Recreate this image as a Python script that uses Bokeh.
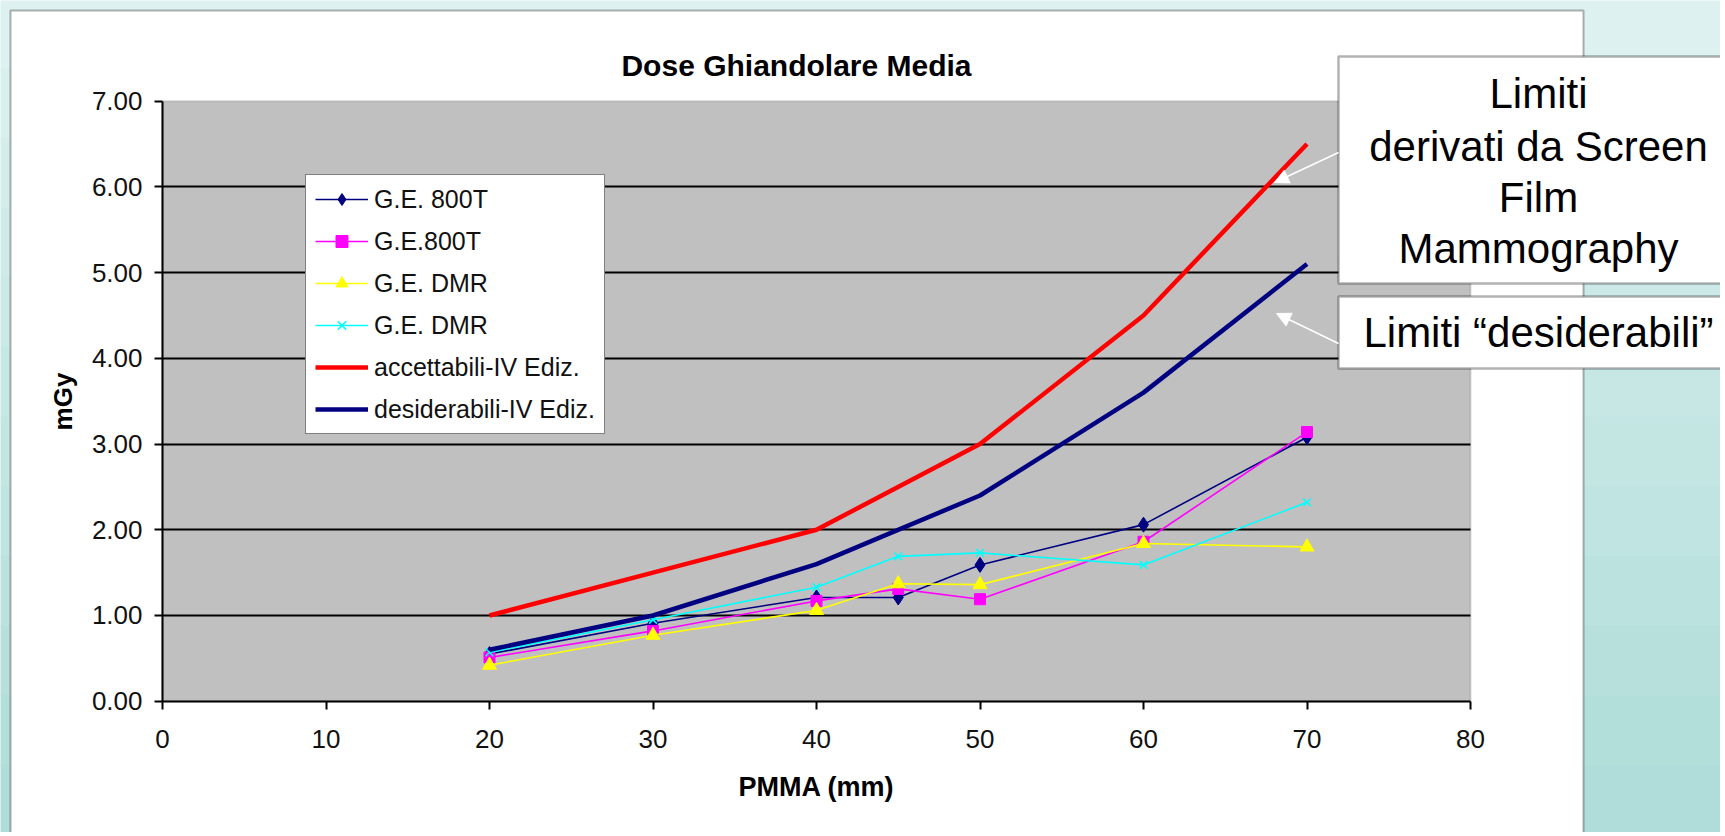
from bokeh.plotting import figure
from bokeh.models import (Range1d, FixedTicker, NumeralTickFormatter, Legend, LegendItem,
                          BoxAnnotation, Label, Arrow, NormalHead)
from bokeh.embed import file_html
from bokeh.resources import INLINE

# ---------------- data ----------------
pmma_mm = [20, 30, 40, 45, 50, 60, 70]
ge_800t_a = [0.55, 0.91, 1.21, 1.21, 1.59, 2.06, 3.08]
ge_800t_b = [0.51, 0.82, 1.17, 1.31, 1.19, 1.86, 3.14]
ge_dmr_a = [0.42, 0.77, 1.06, 1.37, 1.36, 1.84, 1.80]
ge_dmr_b = [0.57, 0.95, 1.33, 1.69, 1.73, 1.59, 2.32]
limit_mm = [20, 30, 40, 50, 60, 70]
accettabili = [1.0, 1.5, 2.0, 3.0, 4.5, 6.5]
desiderabili = [0.6, 1.0, 1.6, 2.4, 3.6, 5.1]

x_ticks = [0, 10, 20, 30, 40, 50, 60, 70, 80]
y_ticks = [0, 1, 2, 3, 4, 5, 6, 7]
grid_ticks = [1, 2, 3, 4, 5, 6]

title_text = "Dose Ghiandolare Media"
x_label = "PMMA (mm)"
y_label = "mGy"
box1_lines = ["Limiti", "derivati da Screen", "Film", "Mammography"]
box2_text = "Limiti \u201cdesiderabili\u201d"

# ---------------- geometry (canvas pixels) ----------------
W, H = 1720, 832
XMIN, XMAX, YMIN, YMAX = 0, 80, 0, 7
PXL, PXR, PYB, PYT = 162.0, 1470.0, 700.7, 100.7   # pixel position of the plot area


def dx(px):
    return XMIN + (px - PXL) * (XMAX - XMIN) / (PXR - PXL)


def dy(py):
    return YMIN + (PYB - py) * (YMAX - YMIN) / (PYB - PYT)


FONT = "Liberation Sans"

p = figure(width=W, height=H, x_range=Range1d(dx(0), dx(W)), y_range=Range1d(dy(H), dy(0)),
           output_backend="svg", toolbar_location=None, title=None,
           min_border_left=0, min_border_right=0, min_border_top=0, min_border_bottom=0)

p.background_fill_color = "white"
p.border_fill_color = "white"
p.outline_line_color = None

# ---------------- backgrounds ----------------
teal = ["#dcf1f0", "#d8efed", "#d3edeb", "#cfebe9", "#cbe9e7", "#c7e7e5", "#c3e6e3",
        "#bfe4e1", "#bbe2df", "#b7e0dd", "#b3dfdb", "#b0ddd9"]
band_h = (H + 4) / len(teal)
for i, c in enumerate(teal):
    p.add_layout(BoxAnnotation(left=dx(-2), right=dx(W + 2), top=dy(-2 + i * band_h),
                               bottom=dy(-2 + (i + 1) * band_h + 1), fill_color=c, fill_alpha=1,
                               line_color=None, level="image"))
# white chart area with black border
p.add_layout(BoxAnnotation(left=dx(10), right=dx(1583), top=dy(10), bottom=dy(H + 30),
                           fill_color="white", fill_alpha=1, line_color="black", line_width=2,
                           level="image"))
# grey plotting area
p.add_layout(BoxAnnotation(left=XMIN, right=XMAX, top=YMAX, bottom=YMIN,
                           fill_color="#c0c0c0", fill_alpha=1, line_color="#808080", line_width=2,
                           level="image"))

# ---------------- axes ----------------
p.xaxis.fixed_location = 0
p.yaxis.fixed_location = 0
p.xaxis.bounds = (XMIN, XMAX)
p.yaxis.bounds = (YMIN, YMAX)
p.xaxis.ticker = FixedTicker(ticks=x_ticks)
p.yaxis.ticker = FixedTicker(ticks=y_ticks)
p.yaxis.formatter = NumeralTickFormatter(format="0.00")
for ax in (p.xaxis[0], p.yaxis[0]):
    ax.axis_line_color = "black"
    ax.axis_line_width = 2
    ax.major_tick_line_color = "black"
    ax.major_tick_line_width = 2
    ax.major_tick_out = 8
    ax.major_tick_in = 0
    ax.minor_tick_line_color = None
    ax.major_label_text_font = FONT
    ax.major_label_text_font_size = "26px"
    ax.major_label_text_color = "#111111"
    ax.axis_label_text_font = FONT
    ax.axis_label_text_font_style = "bold"
    ax.axis_label_text_color = "black"
p.xaxis.axis_label = x_label
p.yaxis.axis_label = y_label
p.xaxis.major_label_standoff = 21
p.yaxis.major_label_standoff = 12
p.xaxis.axis_label_standoff = 20
p.yaxis.axis_label_standoff = 11
p.xaxis.axis_label_text_font_size = "27px"
p.yaxis.axis_label_text_font_size = "26px"

p.xgrid.grid_line_color = None
grid = p.ygrid[0]
grid.ticker = FixedTicker(ticks=grid_ticks)
grid.grid_line_color = "black"
grid.grid_line_width = 2
if "cross_bounds" in grid.properties():
    grid.cross_bounds = (XMIN, XMAX)
else:
    grid.grid_line_color = None
    p.segment(x0=[XMIN] * len(grid_ticks), x1=[XMAX] * len(grid_ticks), y0=grid_ticks, y1=grid_ticks,
              line_color="black", line_width=2, level="underlay")

# ---------------- series ----------------
r1l = p.line(pmma_mm, ge_800t_a, line_color="#000080", line_width=1.6)
r1m = p.scatter(pmma_mm, ge_800t_a, marker="diamond", size=15, fill_color="#000080", line_color="#000080")
r2l = p.line(pmma_mm, ge_800t_b, line_color="#ff00ff", line_width=1.6)
r2m = p.scatter(pmma_mm, ge_800t_b, marker="square", size=11, fill_color="#ff00ff", line_color="#ff00ff")
r3l = p.line(pmma_mm, ge_dmr_a, line_color="#ffff00", line_width=1.6)
r3m = p.scatter(pmma_mm, ge_dmr_a, marker="triangle", size=14, fill_color="#ffff00", line_color="#ffff00")
r4l = p.line(pmma_mm, ge_dmr_b, line_color="#00ffff", line_width=1.6)
r4m = p.scatter(pmma_mm, ge_dmr_b, marker="x", size=11, line_color="#00ffff", line_width=1.6)
r5 = p.line(limit_mm, accettabili, line_color="#ff0000", line_width=4.5)
r6 = p.line(limit_mm, desiderabili, line_color="#000080", line_width=4.5)

legend = Legend(items=[
    LegendItem(label="G.E. 800T", renderers=[r1l, r1m]),
    LegendItem(label="G.E.800T", renderers=[r2l, r2m]),
    LegendItem(label="G.E. DMR", renderers=[r3l, r3m]),
    LegendItem(label="G.E. DMR", renderers=[r4l, r4m]),
    LegendItem(label="accettabili-IV Ediz.", renderers=[r5]),
    LegendItem(label="desiderabili-IV Ediz.", renderers=[r6]),
], location=(305, H - 434))
legend.glyph_width = 53
legend.glyph_height = 30
legend.label_height = 30
legend.label_standoff = 6
legend.spacing = 12
legend.padding = 9
legend.margin = 0
legend.border_line_color = "black"
legend.border_line_width = 1.5
legend.background_fill_color = "white"
legend.background_fill_alpha = 1.0
legend.label_text_font = FONT
legend.label_text_font_size = "25px"
legend.label_text_color = "#111111"
p.add_layout(legend, "center")

# ---------------- title and call-outs ----------------
p.add_layout(Label(x=dx(796), y=dy(65), text=title_text, text_align="center", text_baseline="middle",
                   text_font=FONT, text_font_style="bold", text_font_size="30px", text_color="black"))

p.add_layout(BoxAnnotation(left=dx(1338), right=dx(1745), top=dy(56), bottom=dy(283),
                           fill_color="white", fill_alpha=1, line_color="black", line_width=2.5))
p.add_layout(BoxAnnotation(left=dx(1338), right=dx(1745), top=dy(296), bottom=dy(368),
                           fill_color="white", fill_alpha=1, line_color="black", line_width=2.5))

box1_centres = [92.8, 145.5, 196.7, 247.5]
for t, cy in zip(box1_lines, box1_centres):
    p.add_layout(Label(x=dx(1538), y=dy(cy), text=t, text_align="center",
                       text_baseline="middle", text_font=FONT, text_font_size="42px",
                       text_color="black"))
p.add_layout(Label(x=dx(1538), y=dy(331.7), text=box2_text, text_align="center",
                   text_baseline="middle", text_font=FONT, text_font_size="42px", text_color="black"))

for (sx, sy, ex, ey) in [(1338, 152, 1274, 182), (1338, 343, 1276, 313)]:
    p.add_layout(Arrow(x_start=dx(sx), y_start=dy(sy), x_end=dx(ex), y_end=dy(ey),
                       line_color="white", line_width=1.5,
                       end=NormalHead(size=14, fill_color="white", line_color="white")))

open("out.html", "w").write(file_html(p, INLINE))
